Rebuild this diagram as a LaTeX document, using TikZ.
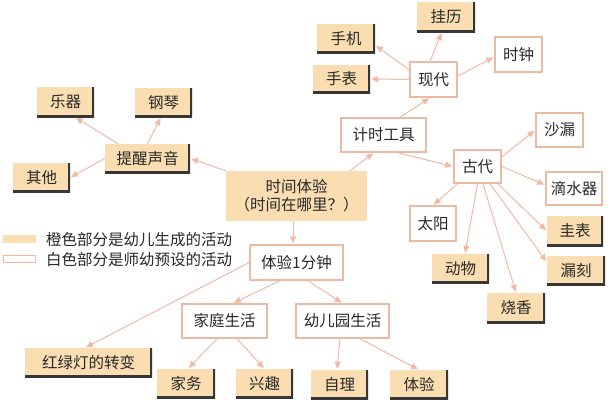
\documentclass[tikz,border=0pt]{standalone}
\usepackage{fontspec}
\setmainfont{Noto Sans CJK SC}
\usetikzlibrary{arrows.meta}
\definecolor{ofill}{RGB}{250,221,176}
\definecolor{wline}{RGB}{236,186,162}
\definecolor{aline}{RGB}{240,186,164}
\definecolor{shad}{RGB}{55,55,55}
\definecolor{txt}{RGB}{40,40,40}
\begin{document}
\begin{tikzpicture}[x=1pt,y=-1pt,
  base/.style={inner sep=0pt, text=txt, font=\fontsize{15.5}{18}\selectfont, anchor=center},
  obox/.style={base, fill=ofill, draw=none,
    path picture={\draw[shad, line width=3.4pt]
      (path picture bounding box.north east) -- (path picture bounding box.south east)
      -- (path picture bounding box.south west);}},
  wbox/.style={base, fill=white, draw=wline, line width=1.5pt},
  arr/.style={draw=aline, line width=1pt, -{Triangle[length=7pt,width=6pt]}, shorten >=1pt},
  legtext/.style={inner sep=0pt, text=txt, font=\fontsize{15.5}{18}\selectfont, anchor=west}
]
\useasboundingbox[fill=white] (0,0) rectangle (608,402);

% center
\node[base, fill=ofill, align=center, minimum width=141pt, minimum height=50pt] (c) at (296.5,196) {时间体验\\（时间在哪里？）};

% left branch
\node[obox, minimum width=85pt, minimum height=29pt] (tx) at (147.5,158.5) {提醒声音};
\node[obox, minimum width=57pt, minimum height=30pt] (yq) at (65.5,102) {乐器};
\node[obox, minimum width=57pt, minimum height=29pt] (gq) at (163.5,102.5) {钢琴};
\node[obox, minimum width=57pt, minimum height=29pt] (qt) at (41.5,177.5) {其他};

% top right branch
\node[wbox, minimum width=85pt, minimum height=34pt] (js) at (383.5,135) {计时工具};
\node[wbox, minimum width=47pt, minimum height=35pt] (xd) at (433.5,79.5) {现代};
\node[obox, minimum width=58pt, minimum height=30pt] (gl) at (446,17) {挂历};
\node[obox, minimum width=58pt, minimum height=29pt] (sj) at (346,38.5) {手机};
\node[obox, minimum width=57pt, minimum height=28pt] (sb) at (341.5,79) {手表};
\node[wbox, minimum width=47pt, minimum height=35pt] (sz) at (518.5,54.5) {时钟};

\node[wbox, minimum width=47pt, minimum height=33pt] (gd) at (477.5,166.5) {古代};
\node[wbox, minimum width=47pt, minimum height=34pt] (sl) at (559.5,130) {沙漏};
\node[wbox, minimum width=56pt, minimum height=33pt] (dsq) at (574,188.5) {滴水器};
\node[wbox, minimum width=46pt, minimum height=35pt] (ty) at (433,223.5) {太阳};
\node[obox, minimum width=56pt, minimum height=30pt] (gb) at (575,231) {圭表};
\node[obox, minimum width=58pt, minimum height=29pt] (lk) at (576,270.5) {漏刻};
\node[obox, minimum width=57pt, minimum height=29pt] (dw) at (460.5,268.5) {动物};
\node[obox, minimum width=58pt, minimum height=30pt] (sx) at (516,308) {烧香};

% bottom branch
\node[wbox, minimum width=93pt, minimum height=35pt] (t1) at (296.5,262.5) {体验1分钟};
\node[wbox, minimum width=85pt, minimum height=34pt] (jt) at (224.5,321) {家庭生活};
\node[wbox, minimum width=93pt, minimum height=34pt] (yey) at (342.5,321) {幼儿园生活};
\node[obox, minimum width=127pt, minimum height=29pt] (hld) at (88.5,362.5) {红绿灯的转变};
\node[obox, minimum width=58pt, minimum height=29pt] (jw) at (186,383.5) {家务};
\node[obox, minimum width=57pt, minimum height=29pt] (xq) at (264.5,383.5) {兴趣};
\node[obox, minimum width=57pt, minimum height=29pt] (zl) at (339.5,384.5) {自理};
\node[obox, minimum width=58pt, minimum height=29pt] (tyy) at (419,384.5) {体验};

% legend
\node[inner sep=0pt, fill=ofill, minimum width=33pt, minimum height=8pt] (lg1) at (19.5,239) {};
\node[inner sep=0pt, fill=white, draw=wline, line width=1.2pt, minimum width=32pt, minimum height=7pt] (lg2) at (19.5,259) {};
\node[legtext] (lt1) at (46,240) {橙色部分是幼儿生成的活动};
\node[legtext] (lt2) at (46,260) {白色部分是师幼预设的活动};

% connectors
\draw[arr] ([xshift=-29.5pt]tx.north) -- ([xshift=9.5pt]yq.south);
\draw[arr] (tx.north) -- ([xshift=-2.5pt]gq.south);
\draw[arr] (tx.west) -- (qt.east);
\draw[arr] (c.north west) -- (tx.east);
\draw[arr] ([xshift=53.5pt]c.north) -- ([xshift=-9.5pt]js.south);
\draw[arr] ([xshift=16.5pt]js.north) -- ([xshift=-3.5pt]xd.south);
\draw[arr] ([yshift=9.5pt]xd.west) -- ([yshift=8pt]sj.south east);
\draw[arr] (xd.west) -- (sb.east);
\draw[arr] ([xshift=-3.5pt]xd.north) -- ([xshift=-4pt]gl.south);
\draw[arr] ([yshift=3.5pt]xd.east) -- ([yshift=-2.5pt]sz.west);
\draw[arr] ([xshift=14.5pt]js.south) -- (gd.west);
\draw[arr] ([yshift=9.5pt]gd.east) -- (sl.west);
\draw[arr] (gd.east) -- ([yshift=3.5pt]dsq.west);
\draw[arr] ([xshift=-20pt]gd.south) -- (ty.north);
\draw[arr] (gd.south) -- ([xshift=4.5pt]dw.north);
\draw[arr] ([xshift=5.5pt]gd.south) -- (sx.north);
\draw[arr] ([xshift=12.5pt]gd.south) -- ([yshift=8.5pt]lk.west);
\draw[arr] ([xshift=-4pt]gd.south east) -- (gb.west);
\draw[arr] ([xshift=-3.5pt]c.south) -- ([xshift=-3.5pt]t1.north);
\draw[arr] (t1.west) -- ([xshift=-3.5pt]hld.north);
\draw[arr] ([xshift=-16.5pt]t1.south) -- ([xshift=8.5pt]jt.north);
\draw[arr] ([xshift=11.5pt]t1.south) -- (yey.north);
\draw[arr] ([xshift=-7.5pt]jt.south) -- ([xshift=2pt]jw.north);
\draw[arr] ([xshift=12.5pt]jt.south) -- (xq.north);
\draw[arr] ([xshift=-2.5pt]yey.south) -- ([xshift=-2.5pt]zl.north);
\draw[arr] ([xshift=17.5pt]yey.south) -- (tyy.north);
\end{tikzpicture}
\end{document}
